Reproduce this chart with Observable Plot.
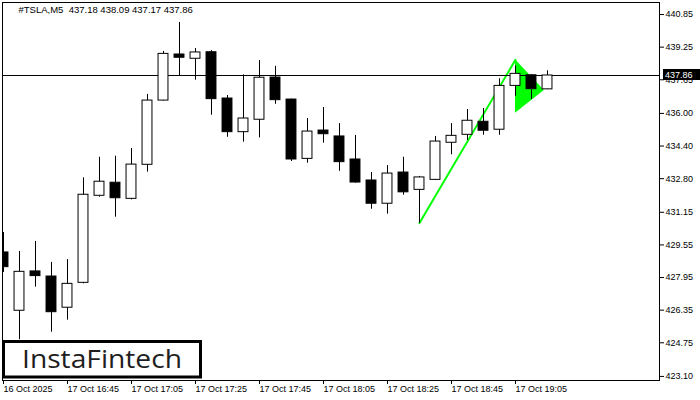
<!DOCTYPE html>
<html><head><meta charset="utf-8">
<script src="https://cdn.jsdelivr.net/npm/d3@7"></script>
<script src="https://cdn.jsdelivr.net/npm/@observablehq/plot@0.6"></script>
<style>html,body{margin:0;padding:0;background:#fff;} svg{display:block}</style>
</head><body><div id="chart"></div>
<script>
const symbolTitle = "#TSLA,M5\u00a0 437.18 438.09 437.17 437.86";
const barTimes = ["16:25","16:30","16:35","16:40","16:45","16:50","16:55","17:00","17:05","17:10",
  "17:15","17:20","17:25","17:30","17:35","17:40","17:45","17:50","17:55","18:00",
  "18:05","18:10","18:15","18:20","18:25","18:30","18:35","18:40","18:45","18:50",
  "18:55","19:00","19:05","19:10","19:15"];
const openP  = [429.18,426.32,428.25,428.00,426.47,427.69,431.96,432.60,431.81,433.48,
  436.63,438.89,438.68,439.00,436.73,435.08,435.69,437.76,436.68,433.77,
  435.16,434.87,433.74,432.71,431.57,433.10,432.25,432.74,434.56,434.95,
  435.59,435.20,437.35,437.87,437.18];
const highP  = [430.16,429.23,429.72,428.69,428.83,432.84,433.85,433.90,434.28,436.93,
  439.04,440.46,439.18,439.08,436.88,437.89,438.59,438.31,436.70,435.75,
  436.29,435.50,434.92,433.10,433.44,433.85,432.91,434.87,435.50,436.19,
  436.24,437.70,438.33,437.90,438.09];
const lowP   = [428.20,424.90,427.48,425.27,425.86,427.64,431.89,430.91,431.76,433.12,
  436.61,437.82,437.63,435.91,434.83,434.59,434.80,436.45,433.64,433.56,
  434.54,433.16,432.58,431.30,431.06,431.99,430.61,432.71,433.97,434.67,
  434.93,434.93,436.84,436.68,437.17];
const closeP = [428.46,428.23,428.02,426.25,427.64,432.01,432.65,431.84,433.49,436.63,
  438.92,438.73,438.99,436.70,435.08,435.75,437.75,436.65,433.74,435.11,
  434.98,433.61,432.61,431.57,433.05,432.13,432.86,434.62,434.90,435.64,
  435.15,437.35,437.94,437.19,437.86];
const xTickIndex = [0,4,8,12,16,20,24,28,32];
const xTickLabels = ["16 Oct 2025","17 Oct 16:45","17 Oct 17:05","17 Oct 17:25","17 Oct 17:45",
  "17 Oct 18:05","17 Oct 18:25","17 Oct 18:45","17 Oct 19:05"];
const yTicks = [440.85,439.25,437.65,436.00,434.40,432.80,431.15,429.55,427.95,426.35,424.75,423.10];
const currentPrice = 437.86;
const poleIndex = [26, 32];
const polePrice = [430.62, 438.63];
const flagIndex = [32, 33.8];
const flagTop = [438.63, 437.12];
const flagBottom = [436.01, 437.12];
const logoText = "InstaFintech";

const bars = barTimes.map((t, i) => ({i, t, o: openP[i], h: highP[i], l: lowP[i], c: closeP[i]}));
const pole = poleIndex.map((x, k) => ({x, y: polePrice[k]}));
const flag = flagIndex.map((x, k) => ({x, y1: flagTop[k], y2: flagBottom[k]}));

const plot = Plot.plot({
  width: 700, height: 400,
  marginLeft: 2, marginRight: 41, marginTop: 2, marginBottom: 20,
  style: {fontFamily: "Liberation Sans, Arial, sans-serif", fontSize: "9px", background: "white", color: "black"},
  x: {domain: [-0.0625, 41]},
  y: {domain: [422.90, 441.44]},
  color: {type: "identity"},
  marks: [
    Plot.areaY(flag, {x: "x", y1: "y1", y2: "y2", fill: "#00ff00", curve: "linear"}),
    Plot.line(pole, {x: "x", y: "y", stroke: "#00ff00", strokeWidth: 2}),
    Plot.ruleY([currentPrice], {stroke: "black", strokeWidth: 1}),
    Plot.ruleX(bars, {x: "i", y1: "l", y2: "h", stroke: "black", clip: true}),
    Plot.rect(bars, {x1: d => d.i - 0.31, x2: d => d.i + 0.31, y1: "o", y2: "c",
      fill: d => d.c >= d.o ? "white" : "black", stroke: "black", strokeWidth: 1, clip: true}),
    Plot.frame({stroke: "black"}),
    Plot.axisY(yTicks, {anchor: "right", tickSize: 4, tickPadding: 2, tickFormat: d => d.toFixed(2), label: null}),
    Plot.axisX(xTickIndex, {anchor: "bottom", tickSize: 4, tickPadding: 1, textAnchor: "start",
      tickFormat: d => xTickLabels[xTickIndex.indexOf(d)], label: null}),
    Plot.text([symbolTitle], {frameAnchor: "top-left", dx: 16, dy: 4, textAnchor: "start", lineAnchor: "top", fontSize: 9.5})
  ]
});

const svg = d3.select(plot);
const yS = plot.scale("y");
const yc = yS.apply(currentPrice);
const g = svg.append("g");
g.append("rect").attr("x", 663).attr("y", yc - 6).attr("width", 37).attr("height", 11).attr("fill", "black");
g.append("text").attr("x", 665).attr("y", yc).attr("dy", "0.32em").attr("fill", "white")
  .attr("font-size", 9).attr("text-anchor", "start").text(currentPrice.toFixed(2));
const logo = svg.append("g");
logo.append("rect").attr("x", 3.5).attr("y", 341.5).attr("width", 197).attr("height", 35.5)
  .attr("fill", "white").attr("stroke", "black").attr("stroke-width", 3);
logo.append("text").attr("x", 22).attr("y", 367.5).attr("font-family", "Open Sans, sans-serif")
  .attr("text-anchor", "start")
  .attr("font-size", 26).attr("font-weight", 500).attr("fill", "#1e1e1e")
  .attr("textLength", 160).attr("lengthAdjust", "spacingAndGlyphs").text(logoText);

document.getElementById("chart").appendChild(plot);
</script>
</body></html>
